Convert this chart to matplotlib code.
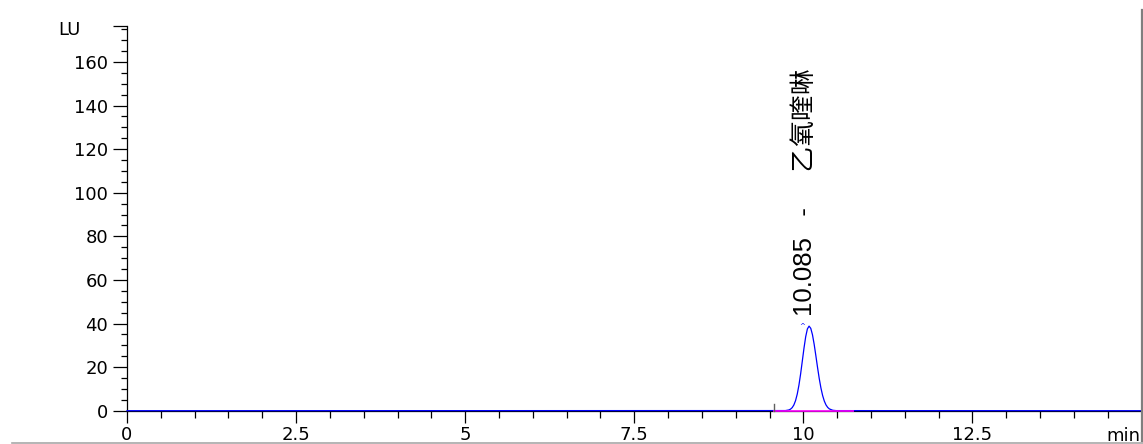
import matplotlib
matplotlib.use("Agg")
import matplotlib.pyplot as plt
from matplotlib.lines import Line2D

# chromatogram trace (min, LU)
time_min = [0.0, 9.735, 9.785, 9.81, 9.835, 9.86, 9.885, 9.91, 9.935, 9.96,
            9.985, 10.01, 10.035, 10.06, 10.085, 10.11, 10.135, 10.16, 10.185,
            10.21, 10.235, 10.26, 10.285, 10.31, 10.335, 10.36, 10.385, 10.435,
            10.485, 15.0]
signal_lu = [0.0, 0.06, 0.33, 0.70, 1.40, 2.63, 4.63, 7.62, 11.73, 16.91,
             22.81, 28.77, 33.97, 37.53, 38.8, 37.78, 34.86, 30.49, 25.27,
             19.86, 14.79, 10.44, 6.98, 4.43, 2.66, 1.52, 0.82, 0.20,
             0.04, 0.0]

# integration baseline of the peak
base_t = [9.57, 10.73]
base_v = [0.0, 0.0]

peak_rt = 10.085
peak_name = "乙氧喹啉"

x_major = [0, 2.5, 5, 7.5, 10, 12.5]
x_labels = ["0", "2.5", "5", "7.5", "10", "12.5"]
y_major = [0, 20, 40, 60, 80, 100, 120, 140, 160]
y_top = 176.5

W, H = 1143, 444
fig = plt.figure(figsize=(W / 100, H / 100), dpi=100)
ax = fig.add_axes([127 / W, 1 - 410.7 / H, 1014.5 / W, 384.7 / H])

ax.plot(time_min, signal_lu, color="#0000ff", lw=0.9, clip_on=False, zorder=5)
# baseline drawn over the flat part of the trace, as in the reference
ax.plot(base_t, base_v, color="#ff00ff", lw=1.4, alpha=0.85, clip_on=False, zorder=6)
ax.plot([base_t[0], base_t[0]], [0, 3.2], color="#606060", lw=1.0, clip_on=False, zorder=6)

ax.set_xlim(0, 15)
ax.set_ylim(0, y_top)

for s in ["top", "right"]:
    ax.spines[s].set_visible(False)
ax.spines["left"].set_color("black")
ax.spines["bottom"].set_color("black")
ax.spines["left"].set_linewidth(0.9)
ax.spines["bottom"].set_linewidth(0.9)

ax.set_xticks(x_major, x_labels)
ax.set_xticks([i * 0.5 for i in range(31)], minor=True)
ax.set_yticks(y_major + [y_top], [str(v) for v in y_major] + [""])
ax.set_yticks([i * 5 for i in range(36)], minor=True)

ax.tick_params(axis="x", which="major", direction="out", length=8.3, width=0.9,
               pad=3, labelsize=13)
ax.tick_params(axis="x", which="minor", direction="out", length=4.7, width=0.9)
ax.tick_params(axis="y", which="major", direction="out", length=10, width=0.9,
               pad=3.5, labelsize=13)
ax.tick_params(axis="y", which="minor", direction="out", length=4, width=0.9)

# peak label
ax.text(10.02, 43.5, f"{peak_rt:.3f}   -     " + peak_name, rotation=90,
        ha="center", va="bottom", fontsize=18.5,
        family=["Liberation Sans", "Noto Sans CJK SC"])
ax.text(9.99, 39, "^", color="#0000ff", fontsize=5, ha="center", va="center")

fig.text(69 / W, 1 - 30 / H, "LU", ha="center", va="center", fontsize=13)
fig.text(1140 / W, 1 - 441 / H, "min", ha="right", va="baseline", fontsize=13)

# frame lines around the plot window
fig.add_artist(Line2D([1141.5 / W, 1141.5 / W], [1 - 10 / H, 1 - 441 / H],
                      color="#7f7f7f", lw=1.6))
fig.add_artist(Line2D([12 / W, 1.0], [1 - 443 / H, 1 - 443 / H],
                      color="#a8a8a8", lw=1.2))

fig.savefig("out.png", dpi=100)
